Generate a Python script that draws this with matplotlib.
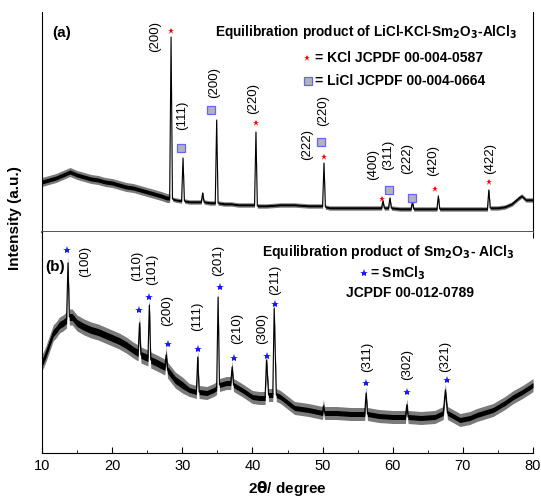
import matplotlib
matplotlib.use("Agg")
import matplotlib.pyplot as plt
import numpy as np

plt.rcParams['font.family'] = ['Liberation Sans', 'DejaVu Sans']
plt.rcParams['mathtext.default'] = 'bf'

# ---------------- panel (a): LiCl-KCl-Sm2O3-AlCl3 ----------------
tth_a = [10, 11, 12, 13, 14, 15, 16, 17, 18, 19, 20, 21, 22, 23, 24, 25, 26, 27,
         27.8, 28.2, 28.4, 28.6, 29.0, 29.9, 30.1, 30.3, 31, 32, 32.7, 32.9, 33.1,
         34, 34.7, 34.9, 35.1, 36, 37, 38, 39, 40.3, 40.5, 40.7, 42, 44, 46, 48,
         49.5, 50.0, 50.2, 50.4, 51, 53, 55, 57, 58.4, 58.6, 58.8, 59.4, 59.6, 59.8,
         61, 62.6, 62.8, 63.0, 64, 66.3, 66.5, 66.7, 68, 70, 72, 73.5, 73.7, 73.9,
         75, 76, 77, 78, 78.4, 79, 80]
int_a = [50, 52, 54, 57, 60, 57, 55, 53, 52, 50, 49, 47, 45, 44, 42, 40, 38, 36,
         34, 34, 195, 33, 32, 31, 74, 31, 30, 30, 30, 39, 30,
         29, 29, 112, 29, 28, 28, 27, 27, 27, 100, 26, 26, 27, 27, 26,
         26, 26, 69, 25, 24, 24, 24, 24, 24, 31, 24, 24, 34, 24,
         23, 23, 30, 23, 23, 23, 36, 23, 23, 23, 23, 23, 42, 24,
         24, 25, 28, 34, 36, 32, 32]
# noise band (start, end, core half-width, outer half-width)
noise_a = [(10, 28.3, 2.0, 4.5), (28.3, 80.1, 0.8, 2.2)]

kcl_x = [28.4, 40.5, 50.2, 58.5, 66.0, 73.7]
kcl_y = [201, 109, 75, 33, 43, 50]
licl_x = [29.8, 34.1, 49.8, 59.5, 62.75]
licl_y = [84, 122, 90, 42, 34]

hkl_a = ['(200)', '(111)', '(200)', '(220)', '(220)', '(222)', '(400)', '(311)',
         '(222)', '(420)', '(422)']
hkl_a_x = [26.1, 30.0, 34.5, 40.1, 50.1, 47.8, 57.2, 59.3, 62.0, 65.7, 73.9]
hkl_a_y = [196, 117, 150, 133, 121, 87, 67, 77, 74, 71, 74]

# ---------------- panel (b): Sm2O3-AlCl3 ----------------
tth_b = [10, 10.5, 11, 11.6, 12, 12.5, 13, 13.5, 13.7, 13.9, 14.3, 15, 16, 17, 18,
         19, 20, 21, 22, 23, 23.7, 23.9, 24.1, 25.1, 25.3, 25.5, 26.4, 27.5, 27.7,
         27.9, 29, 30, 31, 32.0, 32.2, 32.4, 33.5, 34.5, 34.9, 35.1, 35.3, 36.3,
         36.9, 37.1, 37.3, 38.5, 40, 41, 41.8, 42.0, 42.3, 42.9, 43.1, 43.4, 44,
         46, 48, 50, 50.1, 50.3, 52, 54, 56.0, 56.2, 56.4, 58, 60, 61.8, 62.0, 62.2,
         64, 66, 67.2, 67.5, 67.8, 69.6, 71, 72, 74.3, 76, 77.2, 78.5, 79.6, 80]
int_b = [90, 98, 108, 120, 123, 128, 130, 133, 190, 136, 136, 130, 126, 123, 121,
         118, 115, 112, 108, 103, 100, 130, 98, 95, 148, 93, 90, 86, 98,
         83, 73, 68, 63, 61, 96, 61, 60, 63, 65, 156, 68, 70,
         70, 86, 68, 63, 56, 55, 55, 93, 58, 58, 145, 58, 56,
         45, 43, 40, 47, 40, 40, 39, 39, 60, 39, 37, 36, 36, 48, 36,
         35, 36, 40, 63, 40, 33, 35, 38, 43, 50, 56, 61, 66, 68]
noise_b = [(10, 31, 3.5, 8.0), (31, 80.1, 2.5, 6.5)]

smcl_x = [13.6, 23.8, 25.3, 28.0, 32.2, 35.4, 37.4, 42.1, 43.2, 56.2, 62.0, 67.7]
smcl_y = [203, 143, 156, 109, 104, 166, 95, 97, 149, 70, 61, 73]

hkl_b = ['(100)', '(110)', '(101)', '(200)', '(111)', '(201)', '(210)', '(300)',
         '(211)', '(311)', '(302)', '(321)']
hkl_b_x = [16.1, 23.5, 25.7, 27.8, 32.1, 35.1, 37.8, 41.4, 43.2, 56.3, 62.0, 67.5]
hkl_b_y = [192, 187, 184, 142, 137, 193, 125, 124, 173, 96, 88, 97]


def band(x, noise, which):
  x = np.asarray(x, float)
  out = np.zeros_like(x)
  for lo, hi, core, outer in noise:
    m = (x >= lo) & (x < hi)
    out[m] = core if which == 'core' else outer
  return out


def draw_trace(ax, x, y, noise):
  x = np.asarray(x, float)
  y = np.asarray(y, float)
  outer = band(x, noise, 'outer')
  core = band(x, noise, 'core')
  ax.fill_between(x, y - outer, y + outer, color='#7a7a7a', lw=0)
  ax.fill_between(x, y - core, y + core, color='black', lw=0)
  ax.plot(x, y, color='black', lw=0.8)


fig = plt.figure(figsize=(5.41, 5.01), dpi=100)
W, H = 541, 501
ax_a = fig.add_axes([42 / W, 1 - 232 / H, 491 / W, 220 / H])
ax_b = fig.add_axes([42 / W, 1 - 453 / H, 491 / W, 221 / H])

for ax in (ax_a, ax_b):
  ax.set_xlim(10, 80)
  ax.set_yticks([])
  ax.spines['top'].set_visible(False)
  ax.set_xticks(np.arange(10, 81, 10))
  ax.set_xticks(np.arange(15, 80, 10), minor=True)

ax_a.set_ylim(0, 220)
ax_b.set_ylim(0, 221)
ax_b.spines['right'].set_visible(False)
ax_a.spines['bottom'].set_color('#555555')
ax_a.spines['bottom'].set_linewidth(1.4)

ax_a.tick_params(axis='x', which='major', direction='out', length=4, labelbottom=False)
ax_a.tick_params(axis='x', which='minor', direction='out', length=2.5)
ax_b.tick_params(axis='x', which='major', direction='in', length=4, labelsize=10.5, pad=4)
ax_b.tick_params(axis='x', which='minor', direction='in', length=2.5)

draw_trace(ax_a, tth_a, int_a, noise_a)
draw_trace(ax_b, tth_b, int_b, noise_b)

# markers
ax_a.plot(kcl_x, kcl_y, ls='none', marker='*', ms=5, color='red', mew=0)
ax_a.plot(licl_x, licl_y, ls='none', marker='s', ms=5.5, mfc='#b4b4b8',
          mec='#6464ff', mew=0.9)
ax_b.plot(smcl_x, smcl_y, ls='none', marker='*', ms=6, color='#1a1aff', mew=0)

for t, x, y in zip(hkl_a, hkl_a_x, hkl_a_y):
  ax_a.text(x, y, t, rotation=90, ha='center', va='center', fontsize=9.5)
for t, x, y in zip(hkl_b, hkl_b_x, hkl_b_y):
  ax_b.text(x, y, t, rotation=90, ha='center', va='center', fontsize=9.5)

# titles and keys
ax_a.text(34.7, 200, r'Equilibration product of LiCl-KCl-Sm$_2$O$_3$-AlCl$_3$',
          fontsize=9.8, fontweight='bold', va='center')
ax_a.plot([47.8], [174], ls='none', marker='*', ms=5, color='red', mew=0)
ax_a.text(48.9, 174, '= KCl JCPDF 00-004-0587', fontsize=10, fontweight='bold', va='center')
ax_a.plot([47.9], [151], ls='none', marker='s', ms=5.5, mfc='#b4b4b8', mec='#6464ff', mew=0.9)
ax_a.text(48.9, 151, '= LiCl JCPDF 00-004-0664', fontsize=10, fontweight='bold', va='center')
ax_a.text(11.5, 199, '(a)', fontsize=11, fontweight='bold', va='center')

ax_b.text(41.4, 201, r'Equilibration product of Sm$_2$O$_3$- AlCl$_3$',
          fontsize=10, fontweight='bold', va='center')
ax_b.plot([55.9], [180], ls='none', marker='*', ms=6, color='#1a1aff', mew=0)
ax_b.text(56.8, 180, r'= SmCl$_3$', fontsize=10, fontweight='bold', va='center')
ax_b.text(53.3, 160, 'JCPDF 00-012-0789', fontsize=10, fontweight='bold', va='center')
ax_b.text(10.5, 186, '(b)', fontsize=11, fontweight='bold', va='center')

fig.text(287 / W, 1 - 489 / H, r'2$\theta$/ degree', ha='center', va='center',
         fontsize=11, fontweight='bold')
fig.text(15 / W, 1 - 218 / H, 'Intensity (a.u.)', rotation=90, ha='center',
         va='center', fontsize=11, fontweight='bold')

fig.savefig('out.png', dpi=100)
